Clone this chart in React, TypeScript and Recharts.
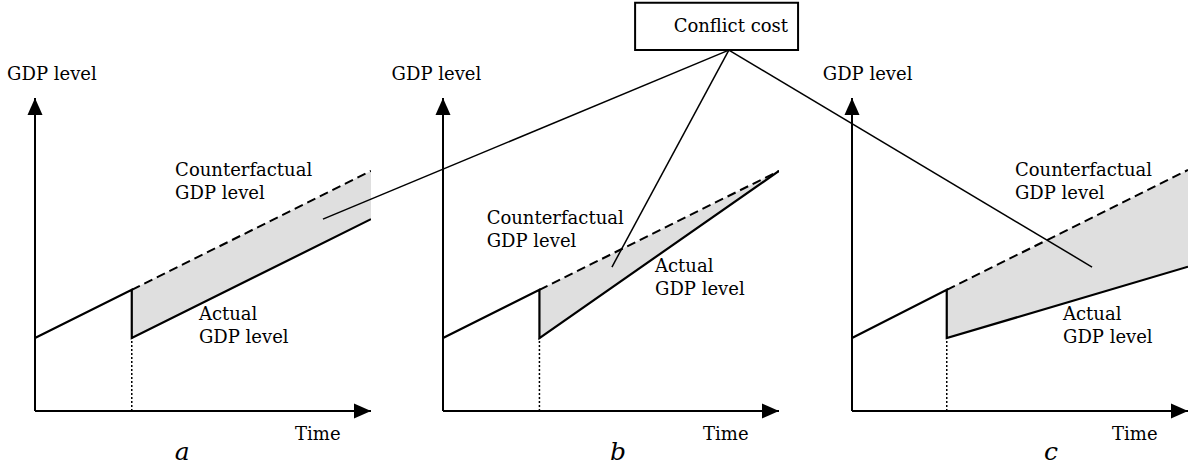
import React from "react";
import { ComposedChart, Line, Area, XAxis, YAxis, ReferenceDot, ReferenceArea, ReferenceLine } from "recharts";

// ---------- data (time units 0..10, GDP level units 0..10 per panel) ----------
type Pt = { t: number; g: number };

const panelNames = ["a", "b", "c"];

const preShockA: Pt[] = [{ t: 0, g: 2.33 }, { t: 2.88, g: 3.87 }];
const counterfactualA: Pt[] = [{ t: 2.88, g: 3.87 }, { t: 10, g: 7.67 }];
const actualA: Pt[] = [{ t: 2.88, g: 2.33 }, { t: 10, g: 6.13 }];

const preShockB: Pt[] = [{ t: 0, g: 2.33 }, { t: 2.87, g: 3.87 }];
const counterfactualB: Pt[] = [{ t: 2.87, g: 3.87 }, { t: 10, g: 7.67 }];
const actualB: Pt[] = [{ t: 2.87, g: 2.33 }, { t: 10, g: 7.67 }];

const preShockC: Pt[] = [{ t: 0, g: 2.33 }, { t: 2.82, g: 3.87 }];
const counterfactualC: Pt[] = [{ t: 2.82, g: 3.87 }, { t: 10, g: 7.7 }];
const actualC: Pt[] = [{ t: 2.82, g: 2.33 }, { t: 10, g: 4.61 }];

type Lbl = { t: number; g: number; lines: string[]; anchor?: string; kind?: string };

const labelsA: Lbl[] = [
  { t: -0.83, g: 10.58, lines: ["GDP level"] },
  { t: 4.17, g: 7.51, lines: ["Counterfactual", "GDP level"] },
  { t: 4.88, g: 2.91, lines: ["Actual", "GDP level"] },
  { t: 7.74, g: -0.93, lines: ["Time"] },
  { t: 4.38, g: -1.57, lines: ["a"], anchor: "middle", kind: "letter" },
];
const labelsB: Lbl[] = [
  { t: -1.53, g: 10.58, lines: ["GDP level"] },
  { t: 1.3, g: 5.97, lines: ["Counterfactual", "GDP level"] },
  { t: 6.31, g: 4.45, lines: ["Actual", "GDP level"] },
  { t: 7.74, g: -0.93, lines: ["Time"] },
  { t: 5.21, g: -1.57, lines: ["b"], anchor: "middle", kind: "letter" },
];
const labelsC: Lbl[] = [
  { t: -0.87, g: 10.58, lines: ["GDP level"] },
  { t: 4.85, g: 7.51, lines: ["Counterfactual", "GDP level"] },
  { t: 6.28, g: 2.91, lines: ["Actual", "GDP level"] },
  { t: 7.74, g: -0.93, lines: ["Time"] },
  { t: 5.92, g: -1.57, lines: ["c"], anchor: "middle", kind: "letter" },
];

// overlay (page-wide) units
const conflictApex = { t: 20.65, g: 11.53 };
const conflictEnds: Pt[] = [
  { t: 8.57, g: 6.13 },
  { t: 17.17, g: 4.6 },
  { t: 31.46, g: 4.6 },
];
const conflictBox = { t1: 17.86, t2: 22.71, g1: 11.53, g2: 13.04 };
const conflictText = { t: 20.71, g: 12.11, text: "Conflict cost" };

// ---------- styling ----------
const FONT = "'DejaVu Serif', serif";
const SHADE = "#dfdfdf";

const TextMark = (props: any) => {
  const { cx, cy, lines, anchor, kind } = props;
  const letter = kind === "letter";
  return (
    <text
      x={cx}
      y={cy}
      textAnchor={anchor || "start"}
      fontFamily={FONT}
      fontSize={letter ? 25 : 18}
      fontStyle={letter ? "italic" : "normal"}
      fill="#000"
    >
      {lines.map((l: string, i: number) => (
        <tspan key={i} x={cx} dy={i === 0 ? 0 : 23}>
          {l}
        </tspan>
      ))}
    </text>
  );
};

const ArrowRight = (props: any) => {
  const { cx, cy } = props;
  return <polygon points={`${cx},${cy} ${cx - 17},${cy - 7.5} ${cx - 17},${cy + 7.5}`} fill="#000" />;
};
const ArrowUp = (props: any) => {
  const { cx, cy } = props;
  return <polygon points={`${cx},${cy} ${cx - 7.5},${cy + 17} ${cx + 7.5},${cy + 17}`} fill="#000" />;
};

type PanelProps = { left: number; pre: Pt[]; cf: Pt[]; act: Pt[]; labels: Lbl[]; name: string };

const Panel = ({ left, pre, cf, act, labels, name }: PanelProps) => {
  const solid = [...pre, ...act];
  const shade = act.map((p, i) => ({ t: p.t, range: [p.g, cf[i].g] }));
  const shock = [{ t: act[0].t, g: 0 }, { t: act[0].t, g: act[0].g }];
  return (
    <div style={{ position: "absolute", left, top: 0 }}>
      <ComposedChart width={440} height={473} margin={{ top: 98, right: 29, bottom: 62, left: 75 }}>
        <XAxis type="number" dataKey="t" domain={[0, 10]} allowDataOverflow hide />
        <YAxis type="number" domain={[0, 10]} allowDataOverflow hide />
        <Area
          data={shade}
          dataKey="range"
          type="linear"
          fill={SHADE}
          fillOpacity={1}
          stroke="none"
          isAnimationActive={false}
          name={`shade-${name}`}
        />
        <ReferenceLine y={0} stroke="#000" strokeWidth={2} ifOverflow="visible" />
        <ReferenceLine x={0} stroke="#000" strokeWidth={2} ifOverflow="visible" />
        <Line
          data={shock}
          dataKey="g"
          type="linear"
          stroke="#000"
          strokeWidth={1.5}
          strokeDasharray="2 2"
          dot={false}
          activeDot={false}
          isAnimationActive={false}
        />
        <Line
          data={cf}
          dataKey="g"
          type="linear"
          stroke="#000"
          strokeWidth={2}
          strokeDasharray="9 5"
          dot={false}
          activeDot={false}
          isAnimationActive={false}
        />
        <Line
          data={solid}
          dataKey="g"
          type="linear"
          stroke="#000"
          strokeWidth={2.2}
          dot={false}
          activeDot={false}
          isAnimationActive={false}
        />
        <ReferenceDot x={10} y={0} r={0} ifOverflow="visible" shape={<ArrowRight />} />
        <ReferenceDot x={0} y={10} r={0} ifOverflow="visible" shape={<ArrowUp />} />
        {labels.map((l, i) => (
          <ReferenceDot
            key={i}
            x={l.t}
            y={l.g}
            r={0}
            ifOverflow="visible"
            shape={<TextMark lines={l.lines} anchor={l.anchor} kind={l.kind} />}
          />
        ))}
      </ComposedChart>
    </div>
  );
};

export default function App() {
  return (
    <div style={{ position: "relative", width: 1188, height: 473, overflow: "hidden", background: "#fff" }}>
      <style>{"body{margin:0}"}</style>
      <Panel left={-40} pre={preShockA} cf={counterfactualA} act={actualA} labels={labelsA} name={panelNames[0]} />
      <Panel left={368} pre={preShockB} cf={counterfactualB} act={actualB} labels={labelsB} name={panelNames[1]} />
      <Panel left={777} pre={preShockC} cf={counterfactualC} act={actualC} labels={labelsC} name={panelNames[2]} />
      <div style={{ position: "absolute", left: 0, top: 0 }}>
        <ComposedChart width={1188} height={473} margin={{ top: 0, right: 0, bottom: 62, left: 35 }}>
          <XAxis type="number" dataKey="t" domain={[0, 34.315]} allowDataOverflow hide />
          <YAxis type="number" domain={[0, 13.131]} allowDataOverflow hide />
          {conflictEnds.map((e, i) => (
            <Line
              key={i}
              data={[conflictApex, e]}
              dataKey="g"
              type="linear"
              stroke="#000"
              strokeWidth={1.5}
              dot={false}
              activeDot={false}
              isAnimationActive={false}
            />
          ))}
          <ReferenceArea
            x1={conflictBox.t1}
            x2={conflictBox.t2}
            y1={conflictBox.g1}
            y2={conflictBox.g2}
            fill="#fff"
            fillOpacity={1}
            stroke="#000"
            strokeWidth={2}
            ifOverflow="visible"
          />
          <ReferenceDot
            x={conflictText.t}
            y={conflictText.g}
            r={0}
            ifOverflow="visible"
            shape={<TextMark lines={[conflictText.text]} anchor="middle" />}
          />
        </ComposedChart>
      </div>
    </div>
  );
}
